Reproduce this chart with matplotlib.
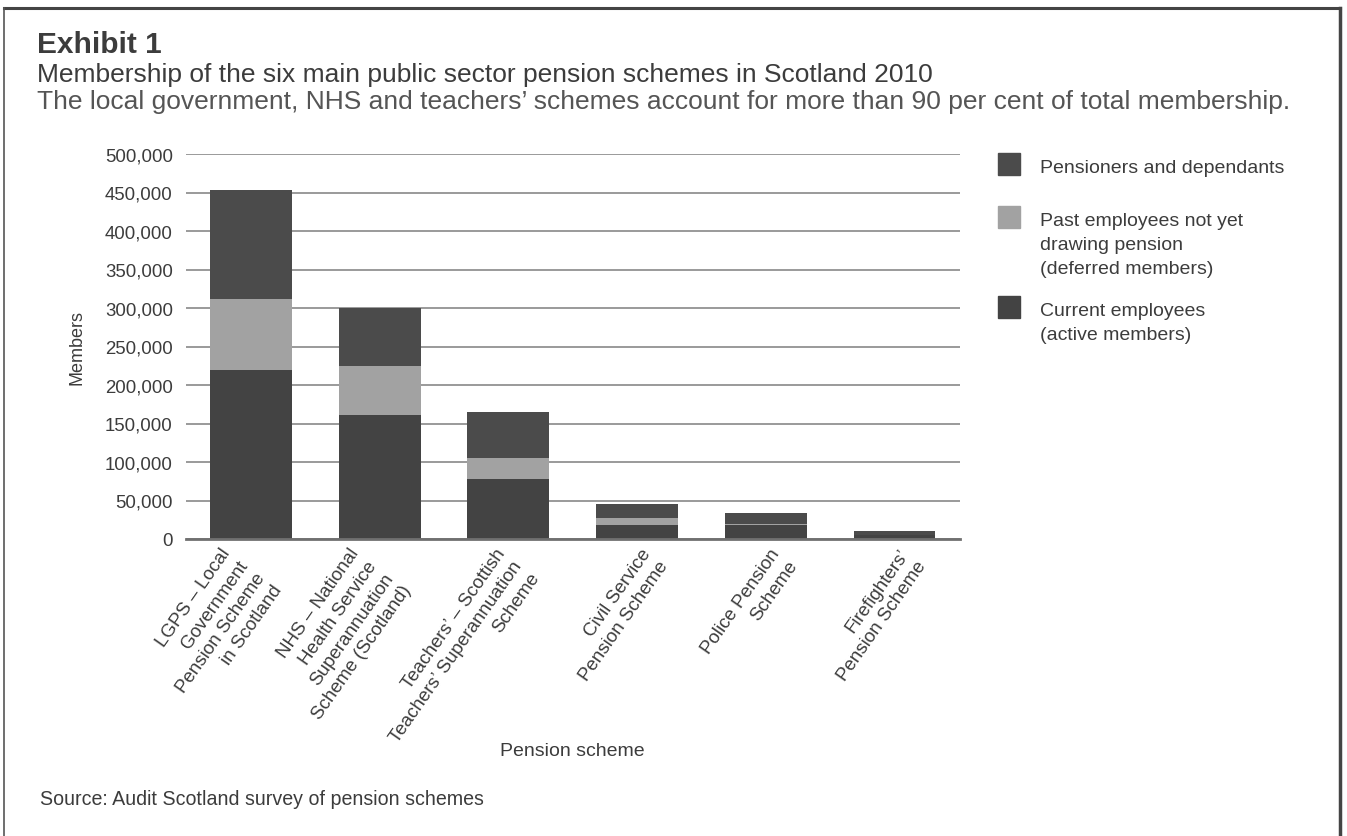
import matplotlib
matplotlib.use("Agg")
import matplotlib.pyplot as plt
import numpy as np
from matplotlib.patches import Rectangle
from matplotlib.lines import Line2D
from matplotlib.transforms import ScaledTranslation
from matplotlib.ticker import FuncFormatter

plt.rcParams['font.family'] = ['Liberation Sans', 'DejaVu Sans']

categories = [
    "LGPS – Local\nGovernment\nPension Scheme\nin Scotland",
    "NHS – National\nHealth Service\nSuperannuation\nScheme (Scotland)",
    "Teachers’ – Scottish\nTeachers’ Superannuation\nScheme",
    "Civil Service\nPension Scheme",
    "Police Pension\nScheme",
    "Firefighters’\nPension Scheme",
]
active = [219500, 161500, 78500, 18000, 18000, 5000]
deferred = [92000, 63500, 27000, 9000, 1000, 300]
pensioners = [141500, 75000, 59000, 19000, 14500, 5500]
series_labels = [["Pensioners and dependants"],
                 ["Past employees not yet", "drawing pension", "(deferred members)"],
                 ["Current employees", "(active members)"]]
yticks = [0, 50000, 100000, 150000, 200000, 250000, 300000, 350000, 400000, 450000, 500000]

W, H = 1347, 837
DPI = 100
fig = plt.figure(figsize=(W / DPI, H / DPI), dpi=DPI)
fig.patch.set_facecolor("white")

txt = "#3c3c3c"
c_active = "#434343"
c_pens = "#4b4b4b"
c_def = "#a2a2a2"

def fx(px):
    return px / W

def fy(py):
    return 1 - py / H

ax = fig.add_axes([fx(186), fy(540), fx(960) - fx(186), fy(155) - fy(540)])
x = np.arange(len(categories))
bw = 0.635
a = np.array(active)
d = np.array(deferred)
p = np.array(pensioners)
ax.bar(x, a, bw, color=c_active, zorder=3)
ax.bar(x, d, bw, bottom=a, color=c_def, zorder=3)
ax.bar(x, p, bw, bottom=a + d, color=c_pens, zorder=3)

ax.set_xlim(-0.505, 5.51)
ax.set_ylim(0, 500000)
ax.set_yticks(yticks)
ax.yaxis.set_major_formatter(FuncFormatter(lambda v, _: f"{int(v):,}"))
ax.grid(axis='y', color="#9a9a9a", linewidth=1.4, zorder=0)
ax.set_axisbelow(True)
for s in ["top", "right", "left"]:
    ax.spines[s].set_visible(False)
ax.spines["bottom"].set_color("#707070")
ax.spines["bottom"].set_linewidth(2.0)
ax.spines["bottom"].set_zorder(4)
ax.tick_params(axis='y', length=0, pad=9.5, labelsize=13.4, labelcolor=txt)
ax.set_xticks(x)
ax.set_xticklabels([])
ax.tick_params(axis='x', length=0)

# category labels: rotated, right-aligned lines, bbox placed below each bar
cat_texts = []
for i, lab in enumerate(categories):
    t = ax.text(i, 0, lab, transform=ax.get_xaxis_transform(), rotation=55,
                rotation_mode='anchor', ha='right', va='top', multialignment='right',
                fontsize=13.5, color=txt, linespacing=1.33)
    cat_texts.append(t)

ax.set_ylabel("Members", fontsize=13, color=txt, labelpad=14)
fig.text(fx(572), fy(752), "Pension scheme", ha='center', va='center', fontsize=14, color=txt)

# Titles
fig.text(fx(37), fy(45), "Exhibit 1", fontsize=21.5, fontweight='bold', color=txt, va='center')
fig.text(fx(37), fy(75), "Membership of the six main public sector pension schemes in Scotland 2010",
         fontsize=19.0, color=txt, va='center')
fig.text(fx(37), fy(102), "The local government, NHS and teachers’ schemes account for more than 90 per cent of total membership.",
         fontsize=19.0, color="#555555", va='center')
fig.text(fx(40), fy(800), "Source: Audit Scotland survey of pension schemes", fontsize=14.1, color=txt, va='center')

# Legend
leg_colors = [c_pens, c_def, c_active]
leg_sq_top = [154, 207, 297]
for col, top, lines in zip(leg_colors, leg_sq_top, series_labels):
    fig.add_artist(Rectangle((fx(998), fy(top + 22)), fx(22), fy(top) - fy(top + 22),
                             transform=fig.transFigure, color=col))
    for k, line in enumerate(lines):
        fig.text(fx(1040), fy(top + 15 + 23.7 * k), line, fontsize=14, color=txt, va='center', ha='left')

# Border
fig.add_artist(Line2D([fx(4), fx(1340)], [fy(9), fy(9)], transform=fig.transFigure, color="#444444", linewidth=2.2))
fig.add_artist(Line2D([fx(4), fx(4)], [fy(9), fy(837)], transform=fig.transFigure, color="#555555", linewidth=1.2))
fig.add_artist(Line2D([fx(1340), fx(1340)], [fy(9), fy(837)], transform=fig.transFigure, color="#444444", linewidth=2.5))

# place each category label: bbox right edge a bit right of bar centre, top just below axis
fig.canvas.draw()
renderer = fig.canvas.get_renderer()
for i, t in enumerate(cat_texts):
    bb = t.get_window_extent(renderer)
    cx, by = ax.transData.transform((i, 0))
    dx = (cx + 35) - bb.x1
    dy = (by - 6) - bb.y1
    t.set_transform(t.get_transform() + ScaledTranslation(dx / DPI, dy / DPI, fig.dpi_scale_trans))

fig.savefig("out.png", dpi=DPI, facecolor="white")
